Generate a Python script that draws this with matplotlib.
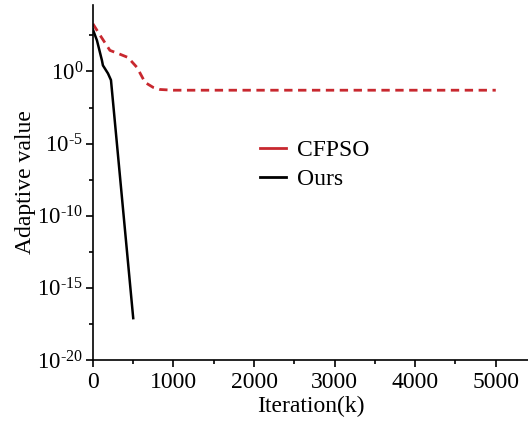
import numpy as np
import matplotlib
matplotlib.use("Agg")
import matplotlib.pyplot as plt
from matplotlib.ticker import FixedLocator, FuncFormatter, MultipleLocator
from matplotlib.lines import Line2D

plt.rcParams['font.family'] = ['Liberation Serif', 'DejaVu Serif']
plt.rcParams['mathtext.fontset'] = 'custom'
plt.rcParams['mathtext.rm'] = 'Liberation Serif'

# CFPSO curve (log10 of adaptive value)
cfpso_x = [0, 90, 211, 311, 435, 547, 647, 746, 833, 1000, 2000, 3000, 4000, 5000]
cfpso_log = [3.3, 2.5, 1.46, 1.25, 0.97, 0.28, -0.76, -1.1, -1.25, -1.3, -1.3, -1.3, -1.3, -1.3]

# Ours curve
ours_x = [0, 50, 112, 124, 187, 224, 500]
ours_log = [2.9, 2.15, 0.76, 0.42, -0.14, -0.6, -17.1]

fig = plt.figure(figsize=(5.28, 4.25), dpi=100)
ax = fig.add_axes([0.176, 0.153, 0.824, 0.835])

ax.plot(cfpso_x, 10.0 ** np.array(cfpso_log), color='#c8282f', lw=2,
        linestyle=(0, (3, 2)))
ax.plot(ours_x, 10.0 ** np.array(ours_log), color='black', lw=1.8)

ax.set_yscale('log')
ax.set_ylim(1e-20, 10 ** 4.6)
ax.set_xlim(0, 5400)


def exp_label(v, p):
    e = int(round(np.log10(v)))
    s = str(e).replace('-', '\u2010')
    return r'$\mathregular{10^{%s}}$' % s


ax.yaxis.set_major_locator(FixedLocator([1e-20, 1e-15, 1e-10, 1e-5, 1e0]))
ax.yaxis.set_minor_locator(FixedLocator([10 ** e for e in (-17.5, -12.5, -7.5, -2.5, 2.5)]))
ax.yaxis.set_major_formatter(FuncFormatter(exp_label))
ax.yaxis.set_minor_formatter(FuncFormatter(lambda v, p: ''))
ax.xaxis.set_major_locator(MultipleLocator(1000))
ax.xaxis.set_minor_locator(MultipleLocator(500))

ax.spines['top'].set_visible(False)
ax.spines['right'].set_visible(False)
for s in ('left', 'bottom'):
    ax.spines[s].set_linewidth(1.2)
ax.tick_params(which='major', direction='out', length=5, width=1.2, labelsize=17)
ax.tick_params(axis='y', which='major', labelsize=16.5, pad=2)
ax.tick_params(which='minor', direction='out', length=3, width=1.2)
ax.tick_params(axis='x', which='major', pad=4)

ax.set_xlabel('Iteration(k)', fontsize=17, labelpad=2)
ax.set_ylabel('Adaptive value', fontsize=17, labelpad=1)

handles = [Line2D([], [], color='#c8282f', lw=2), Line2D([], [], color='black', lw=2)]
ax.legend(handles, ['CFPSO', 'Ours'], loc='upper left', bbox_to_anchor=(0.335, 0.68),
          frameon=False, fontsize=17, handlelength=1.1, handletextpad=0.45,
          labelspacing=0.3)

fig.savefig('out.png', dpi=100)
